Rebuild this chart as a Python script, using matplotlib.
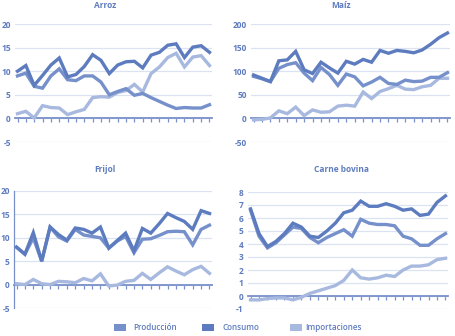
import matplotlib
matplotlib.use("Agg")
import matplotlib.pyplot as plt
from matplotlib.patches import Rectangle

# Series, one value per year (24 years)
years = list(range(24))

arroz_produccion = [9.0, 9.6, 6.8, 6.4, 9.0, 10.5, 8.2, 8.0, 9.0, 9.0, 7.7, 5.0,
                    5.7, 6.3, 4.9, 5.3, 4.4, 3.6, 2.8, 2.1, 2.3, 2.2, 2.2, 2.9]
arroz_consumo = [10.0, 11.2, 7.0, 9.1, 11.3, 12.8, 8.8, 9.3, 11.0, 13.5, 12.3, 9.5,
                 11.3, 12.0, 12.1, 10.7, 13.4, 14.0, 15.5, 15.8, 12.9, 15.1, 15.4, 14.0]
arroz_importaciones = [1.0, 1.5, 0.1, 2.7, 2.3, 2.2, 0.8, 1.4, 1.9, 4.4, 4.6, 4.5,
                       5.5, 5.9, 7.2, 5.6, 9.5, 10.9, 12.9, 13.8, 10.9, 13.0, 13.3, 11.2]

maiz_produccion = [89, 84, 78, 106, 114, 118, 96, 80, 108, 93, 70, 94,
                   88, 69, 77, 87, 74, 72, 81, 78, 79, 87, 87, 97]
maiz_consumo = [92, 85, 78, 122, 124, 142, 103, 95, 119, 107, 96, 121,
                115, 125, 119, 144, 138, 144, 142, 139, 145, 157, 171, 181]
maiz_importaciones = [-3, -2, 1, 16, 10, 24, 6, 18, 13, 14, 26, 28,
                      26, 56, 42, 57, 63, 70, 62, 61, 67, 70, 85, 85]

frijol_produccion = [8.0, 6.5, 10.0, 5.0, 12.3, 10.2, 9.3, 11.8, 10.6, 10.3, 10.0, 7.8,
                     9.3, 10.3, 6.8, 9.7, 9.8, 10.5, 11.3, 11.4, 11.3, 8.5, 11.8, 12.7]
frijol_consumo = [8.0, 6.5, 11.1, 5.0, 12.3, 10.7, 9.5, 12.1, 11.8, 11.0, 12.3, 7.8,
                  9.4, 11.0, 7.2, 12.0, 11.0, 13.0, 15.2, 14.3, 13.5, 11.8, 15.8, 15.2]
frijol_importaciones = [0.2, 0.0, 1.1, 0.2, 0.0, 0.7, 0.6, 0.4, 1.3, 0.8, 2.3, -0.3,
                        -0.1, 0.7, 0.9, 2.4, 1.1, 2.5, 3.8, 2.9, 2.1, 3.2, 3.9, 2.4]

carne_produccion = [6.6, 4.6, 3.7, 4.1, 4.7, 5.3, 5.2, 4.5, 4.1, 4.5, 4.8, 5.1,
                    4.6, 5.9, 5.6, 5.5, 5.5, 5.4, 4.6, 4.4, 3.9, 3.9, 4.4, 4.8]
carne_consumo = [6.7, 4.8, 3.8, 4.2, 4.8, 5.6, 5.3, 4.6, 4.5, 5.0, 5.6, 6.4,
                 6.6, 7.3, 6.9, 6.9, 7.1, 6.9, 6.6, 6.7, 6.2, 6.3, 7.2, 7.7]
carne_importaciones = [-0.3, -0.3, -0.2, -0.15, -0.15, -0.3, -0.1, 0.2, 0.4, 0.6, 0.8, 1.2,
                       2.0, 1.4, 1.3, 1.4, 1.6, 1.5, 2.0, 2.3, 2.3, 2.4, 2.8, 2.9]

titles = ["Arroz", "Maíz", "Frijol", "Carne bovina"]
series_labels = ["Producción", "Consumo", "Importaciones"]

arroz_ticks = [-5, 0, 5, 10, 15, 20]
maiz_ticks = [-50, 0, 50, 100, 150, 200]
frijol_ticks = [-5, 0, 5, 10, 15, 20]
carne_ticks = [-1, 0, 1, 2, 3, 4, 5, 6, 7, 8]

C_PROD = "#7590cb"
C_CONS = "#5d7bbf"
C_IMP = "#a8b9e0"
C_TEXT = "#5f7cc0"
C_AXIS = "#7890ca"
C_GRID = "#dbe2f1"

plt.rcParams["font.family"] = ["Open Sans", "DejaVu Sans"]

W, H = 456, 336
fig = plt.figure(figsize=(W / 100, H / 100), dpi=100)
fig.patch.set_facecolor("white")


def px_axes(left, right, top, bottom):
    return fig.add_axes([left / W, 1 - bottom / H, (right - left) / W, (bottom - top) / H])


panels = [
    (titles[0], (15, 212, 24, 142), arroz_ticks,
     (arroz_produccion, arroz_consumo, arroz_importaciones), (105, 6), False),
    (titles[1], (251, 450, 24, 142), maiz_ticks,
     (maiz_produccion, maiz_consumo, maiz_importaciones), (341, 6), False),
    (titles[2], (14, 212, 191, 308), frijol_ticks,
     (frijol_produccion, frijol_consumo, frijol_importaciones), (105, 169), True),
    (titles[3], (248, 448, 192, 309), carne_ticks,
     (carne_produccion, carne_consumo, carne_importaciones), (341, 169), False),
]

for title, box, yticks, (prod, cons, imp), (tx, ty), left_spine in panels:
    ax = px_axes(*box)
    ax.set_facecolor("none")
    ax.set_xlim(-0.3, 23.3)
    ax.set_ylim(yticks[0], yticks[-1])
    ax.set_yticks(yticks)
    ax.set_yticklabels([str(t) for t in yticks])
    ax.set_xticks(years)
    ax.set_xticklabels([])
    ax.grid(axis="y", color=C_GRID, linewidth=0.9)
    ax.set_axisbelow(True)
    for s in ("top", "right"):
        ax.spines[s].set_visible(False)
    ax.spines["left"].set_visible(left_spine)
    ax.spines["left"].set_color(C_AXIS)
    ax.spines["left"].set_linewidth(0.9)
    ax.spines["bottom"].set_position(("data", 0))
    ax.spines["bottom"].set_color(C_AXIS)
    ax.spines["bottom"].set_linewidth(1.3)
    ax.tick_params(axis="x", direction="out", length=2.8, width=0.9, color=C_AXIS)
    ax.tick_params(axis="y", length=0, pad=3, labelsize=6.0, labelcolor=C_TEXT)
    for lab in ax.get_yticklabels():
        lab.set_fontweight("bold")

    ax.plot(years, imp, color=C_IMP, linewidth=2.4, zorder=3, solid_joinstyle="miter")
    ax.plot(years, prod, color=C_PROD, linewidth=2.4, zorder=3, solid_joinstyle="miter")
    ax.plot(years, cons, color=C_CONS, linewidth=2.4, zorder=3, solid_joinstyle="miter")

    fig.text(tx / W, 1 - ty / H, title, ha="center", va="center", fontsize=6.0,
             color=C_TEXT, fontweight="bold")

# Legend row
legend_items = [(114, 133, series_labels[0], C_PROD),
                (202, 223, series_labels[1], C_CONS),
                (290, 305, series_labels[2], C_IMP)]
for px, tx, label, col in legend_items:
    fig.add_artist(Rectangle((px / W, 1 - 330.5 / H), 12 / W, 7 / H,
                             transform=fig.transFigure, facecolor=col, edgecolor="none"))
    fig.text(tx / W, 1 - 327 / H, label, ha="left", va="center", fontsize=5.9,
             color=C_TEXT, fontweight="semibold")

fig.savefig("out.png", dpi=100, facecolor="white")
